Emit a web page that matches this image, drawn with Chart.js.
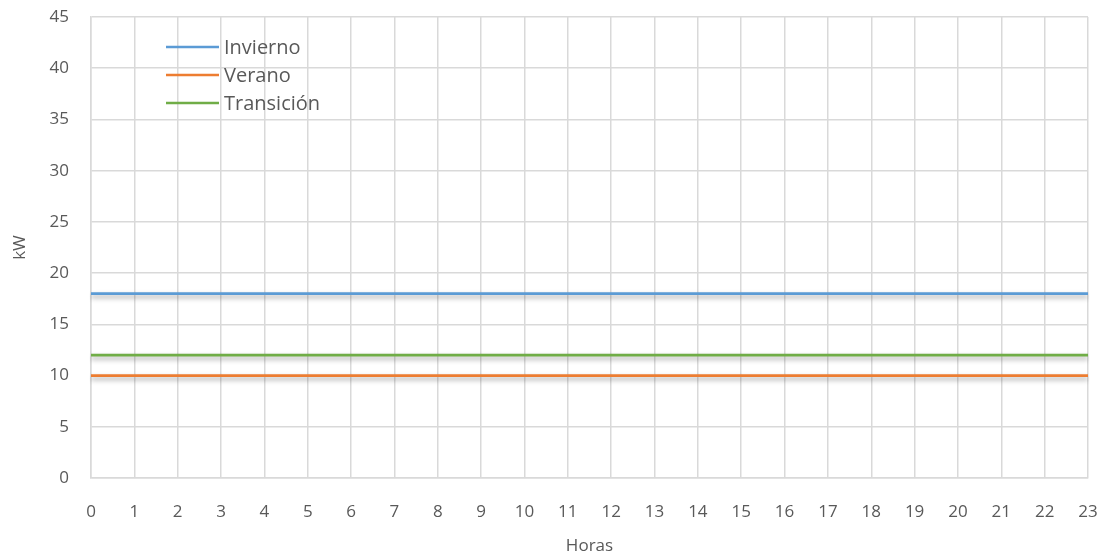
<!DOCTYPE html>
<html>
<head>
<meta charset="utf-8">
<script src="https://cdn.jsdelivr.net/npm/chart.js@4"></script>
<style>
  html, body { margin: 0; padding: 0; background: #fff; }
  #wrap { width: 1104px; height: 556px; }
</style>
</head>
<body>
<div id="wrap"><canvas id="c" width="1104" height="556"></canvas></div>
<script>
// Hourly demand profiles (kW) per season
const hours = ['0','1','2','3','4','5','6','7','8','9','10','11','12','13','14','15','16','17','18','19','20','21','22','23'];
const invierno   = [18,18,18,18,18,18,18,18,18,18,18,18,18,18,18,18,18,18,18,18,18,18,18,18];
const verano     = [10,10,10,10,10,10,10,10,10,10,10,10,10,10,10,10,10,10,10,10,10,10,10,10];
const transicion = [12,12,12,12,12,12,12,12,12,12,12,12,12,12,12,12,12,12,12,12,12,12,12,12];
const seriesNames = ['Invierno', 'Verano', 'Transición'];
const yTicks = [0,5,10,15,20,25,30,35,40,45];

const FONT = '"Open Sans", Lato, sans-serif';
const TEXT = '#595959';
const GRID = '#d9d9d9';
const COLORS = ['#5b9bd5', '#ed7d31', '#70ad47'];

// Soft drop shadow under each series line
const lineShadow = {
  id: 'lineShadow',
  beforeDatasetDraw(chart) {
    const ctx = chart.ctx;
    ctx.save();
    ctx.shadowColor = 'rgba(0,0,0,0.35)';
    ctx.shadowBlur = 5;
    ctx.shadowOffsetY = 3;
  },
  afterDatasetDraw(chart) {
    chart.ctx.restore();
  }
};

// Legend drawn inside the plot area, upper left
const innerLegend = {
  id: 'innerLegend',
  afterDraw(chart) {
    const ctx = chart.ctx;
    const x0 = 166, x1 = 219, tx = 224;
    const rows = [47, 75, 103];
    ctx.save();
    ctx.font = '20px ' + FONT;
    ctx.textBaseline = 'middle';
    ctx.fillStyle = TEXT;
    chart.data.datasets.forEach((ds, i) => {
      ctx.strokeStyle = ds.borderColor;
      ctx.lineWidth = 2.5;
      ctx.beginPath();
      ctx.moveTo(x0, rows[i]);
      ctx.lineTo(x1, rows[i]);
      ctx.stroke();
      ctx.fillText(ds.label, tx, rows[i] + 1);
    });
    ctx.restore();
  }
};

new Chart(document.getElementById('c'), {
  type: 'line',
  data: {
    labels: hours,
    datasets: [
      { label: seriesNames[0], data: invierno,   borderColor: COLORS[0], backgroundColor: COLORS[0] },
      { label: seriesNames[1], data: verano,     borderColor: COLORS[1], backgroundColor: COLORS[1] },
      { label: seriesNames[2], data: transicion, borderColor: COLORS[2], backgroundColor: COLORS[2] }
    ]
  },
  options: {
    responsive: false,
    animation: false,
    devicePixelRatio: 1,
    layout: { padding: { left: 0, right: 16, top: 17, bottom: 0 } },
    elements: {
      line: { borderWidth: 2.75, tension: 0 },
      point: { radius: 0, hoverRadius: 0 }
    },
    plugins: {
      legend: { display: false },
      tooltip: { enabled: false }
    },
    scales: {
      x: {
        offset: false,
        grid: { color: GRID, lineWidth: 1.5, drawTicks: false },
        border: { color: GRID, width: 1.5 },
        ticks: {
          color: TEXT, font: { family: FONT, size: 17 },
          padding: 24, maxRotation: 0, autoSkip: false
        },
        title: {
          display: true, text: 'Horas', color: TEXT,
          font: { family: FONT, size: 17 }, padding: { top: 4, bottom: 0 }
        },
        afterFit(scale) {
          scale.height = 78;
          scale.paddingLeft = 0;
          scale.paddingRight = 0;
        }
      },
      y: {
        min: 0, max: 45,
        afterBuildTicks(scale) { scale.ticks = yTicks.map(v => ({ value: v })); },
        grid: { color: GRID, lineWidth: 1.5, drawTicks: false },
        border: { color: GRID, width: 1.5 },
        ticks: { color: TEXT, font: { family: FONT, size: 17 }, padding: 22 },
        title: {
          display: true, text: 'kW', color: TEXT,
          font: { family: FONT, size: 17 }, padding: { top: 10, bottom: 0 }
        },
        afterFit(scale) {
          scale.width = 91;
          scale.paddingTop = 0;
          scale.paddingBottom = 0;
        }
      }
    }
  },
  plugins: [lineShadow, innerLegend]
});
</script>
</body>
</html>
